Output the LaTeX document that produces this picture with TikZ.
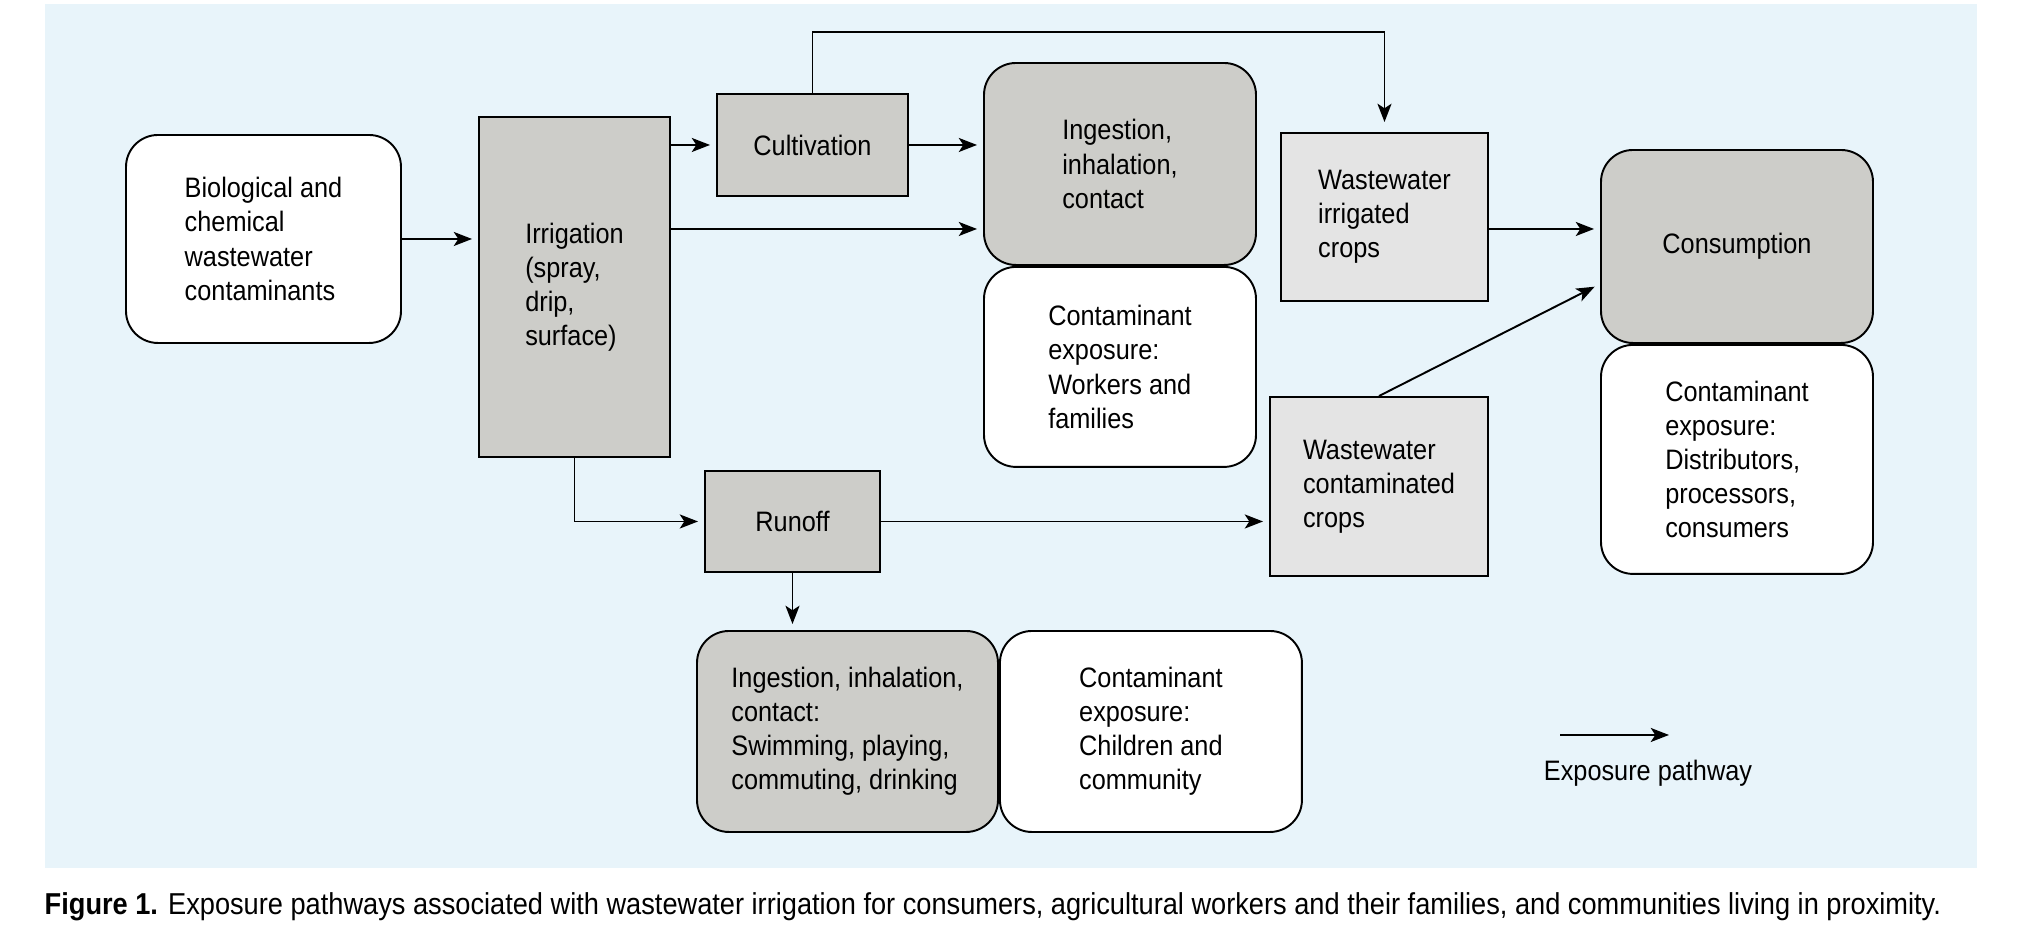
\documentclass[tikz,border=0pt]{standalone}
\usepackage{fontspec}
\setmainfont{Liberation Sans}[FakeStretch=0.9]
\usetikzlibrary{arrows.meta,positioning,calc}

\definecolor{panelblue}{RGB}{232,244,250}
\definecolor{boxgray}{RGB}{205,205,201}
\definecolor{cropgray}{RGB}{228,228,228}

\begin{document}
\begin{tikzpicture}[
  node distance=0cm,
  txt/.style={align=left, font=\fontsize{8}{9.7}\selectfont, inner sep=0pt},
  rbox/.style={
    txt, rectangle, rounded corners=3.2mm, draw, line width=0.55pt,
    fill=white},
  dbox/.style={rbox, fill=boxgray},
  sbox/.style={
    txt, rectangle, draw, line width=0.55pt, fill=boxgray},
  cbox/.style={sbox, fill=cropgray},
  arr/.style={-{Stealth[length=5.2pt,width=4pt,inset=1.3pt]},
    line width=0.55pt, shorten >=0.6mm},
]
  \useasboundingbox (0,0) rectangle (20.28,9.42);
  \fill[panelblue] (0.45,0.74) rectangle (19.77,9.38);

  % left part
  \node[rbox, minimum width=2.75cm, minimum height=2.08cm] (src) at (2.635,7.03)
      {Biological and\\chemical\\wastewater\\contaminants};
  \node[sbox, minimum width=1.91cm, minimum height=3.40cm] (irr) at (5.745,6.55)
      {Irrigation\\(spray,\\drip,\\surface)};
  \node[sbox, minimum width=1.91cm, minimum height=1.02cm] (cult) at (8.125,7.97)
      {Cultivation};
  \node[sbox, minimum width=1.75cm, minimum height=1.01cm] (run) at (7.925,4.205)
      {Runoff};

  % workers
  \node[dbox, minimum width=2.72cm, minimum height=2.02cm] (ihc) at (11.20,7.78)
      {Ingestion,\\inhalation,\\contact};
  \node[rbox, minimum width=2.72cm, minimum height=2.00cm, below=of ihc] (wkr)
      {Contaminant\\exposure:\\Workers and\\families};

  % crops and consumers
  \node[cbox, minimum width=2.07cm, minimum height=1.68cm] (wic) at (13.845,7.25)
      {Wastewater\\irrigated\\crops};
  \node[cbox, minimum width=2.18cm, minimum height=1.79cm] (wcc) at (13.79,4.555)
      {Wastewater\\contaminated\\crops};
  \node[dbox, minimum width=2.72cm, minimum height=1.93cm] (cons) at (17.37,6.955)
      {Consumption};
  \node[rbox, minimum width=2.72cm, minimum height=2.29cm, below=of cons] (dist)
      {Contaminant\\exposure:\\Distributors,\\processors,\\consumers};

  % community
  \node[dbox, minimum width=3.01cm, minimum height=2.01cm] (ihc2) at (8.475,2.105)
      {Ingestion, inhalation,\\contact:\\Swimming, playing,\\commuting, drinking};
  \node[rbox, minimum width=3.02cm, minimum height=2.01cm, right=of ihc2] (kids)
      {Contaminant\\exposure:\\Children and\\community};

  % pathways
  \coordinate (irrmid) at ([yshift=5.8mm]irr.east);
  \coordinate (wicout) at ([yshift=-1.2mm]wic.east);
  \draw[arr] (src.east) -- (src.east -| irr.west);
  \draw[arr] (cult.west -| irr.east) -- (cult.west);
  \draw[arr] (cult.east) -- (cult.east -| ihc.west);
  \draw[arr] (irrmid) -- (irrmid -| ihc.west);
  \draw[arr, shorten >=1mm] (cult.north) -- ++(0,0.61) -| (wic.north);
  \draw[arr] (wicout) -- (wicout -| cons.west);
  \draw[arr] (wcc.north) -- ([yshift=-3.75mm]cons.west);
  \draw[arr] (irr.south) |- (run.west);
  \draw[arr] (run.east) -- (run.east -| wcc.west);
  \draw[arr] (run.south) -- (run.south |- ihc2.north);

  % legend
  \coordinate (legA) at (15.60,2.07);
  \coordinate (legB) at (16.69,2.07);
  \draw[arr, shorten >=0pt] (legA) -- (legB);
  \node[txt] (leg) at (16.48,1.69) {Exposure pathway};

  % caption
  \node[txt, font=\fontsize{8.6}{10}\selectfont, anchor=base west] (cap) at (0.44,0.27)
      {\textbf{Figure 1.} Exposure pathways associated with wastewater irrigation
       for consumers, agricultural workers and their families, and communities
       living in proximity.};
\end{tikzpicture}
\end{document}
